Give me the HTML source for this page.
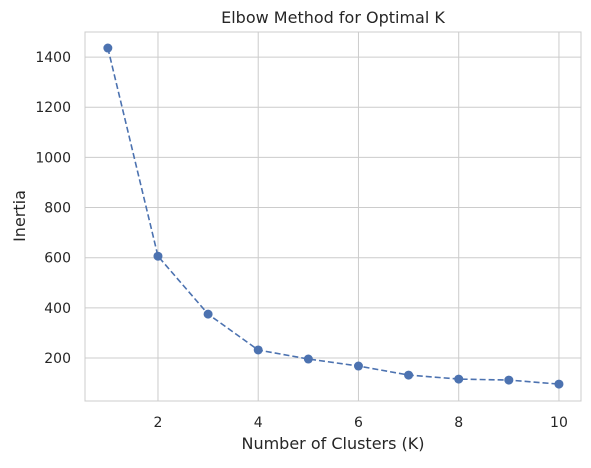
<!DOCTYPE html>
<html><head><meta charset="utf-8"><style>
body{margin:0;background:#fff;}
svg text{font-family:"DejaVu Sans","Liberation Sans",sans-serif;fill:#262626;}
</style></head><body>
<svg id="chart" width="591" height="463" xmlns="http://www.w3.org/2000/svg">
<rect x="85" y="32" width="496" height="369" fill="#fff" stroke="#ccc" stroke-width="1"/>
<g id="grid"></g><g id="ticks"></g>
<path id="line" fill="none" stroke="#4c72b0" stroke-width="1.6" stroke-dasharray="6,3"/>
<g id="points"></g>
<text x="333" y="23" text-anchor="middle" font-size="16">Elbow Method for Optimal K</text>
<text x="333" y="449" text-anchor="middle" font-size="16">Number of Clusters (K)</text>
<text x="25" y="216" text-anchor="middle" font-size="16" transform="rotate(-90 25 216)">Inertia</text>
</svg>
<script>
const kValues=[1,2,3,4,5,6,7,8,9,10];
const inertia=[1436,606,375,232,196,168,132,116,112,96];
const xTicks=[2,4,6,8,10];
const yTicks=[200,400,600,800,1000,1200,1400];
const L=85,R=581,T=32,B=401,xMin=0.544,xMax=10.44,yMin=28.6,yMax=1500;
const sx=v=>L+(v-xMin)/(xMax-xMin)*(R-L);
const sy=v=>B-(v-yMin)/(yMax-yMin)*(B-T);
const NS="http://www.w3.org/2000/svg";
const grid=document.getElementById('grid'),ticks=document.getElementById('ticks'),pts=document.getElementById('points');
function mk(tag,attrs,parent){const e=document.createElementNS(NS,tag);for(const k in attrs)e.setAttribute(k,attrs[k]);parent.appendChild(e);return e;}
xTicks.forEach(v=>{
 const g=mk('line',{x1:sx(v),x2:sx(v),y1:T,y2:B,stroke:'#ccc','stroke-width':1},grid);
 
 
 const t=mk('text',{x:sx(v),y:B+26,'text-anchor':'middle','font-size':14},ticks);t.textContent=v;
 
 
});
yTicks.forEach(v=>{
 const g=mk('line',{x1:L,x2:R,y1:sy(v),y2:sy(v),stroke:'#ccc','stroke-width':1},grid);
 
 
 const t=mk('text',{x:L-14,y:sy(v)+5,'text-anchor':'end','font-size':14},ticks);t.textContent=v;
 
 
});
document.getElementById('line').setAttribute('d',kValues.map((k,i)=>(i?'L':'M')+sx(k)+','+sy(inertia[i])).join(''));
kValues.forEach((k,i)=>{
 const c=mk('circle',{cx:sx(k),cy:sy(inertia[i]),r:4.5,fill:'#4c72b0'},pts);
 
 
});
</script>
</body></html>
